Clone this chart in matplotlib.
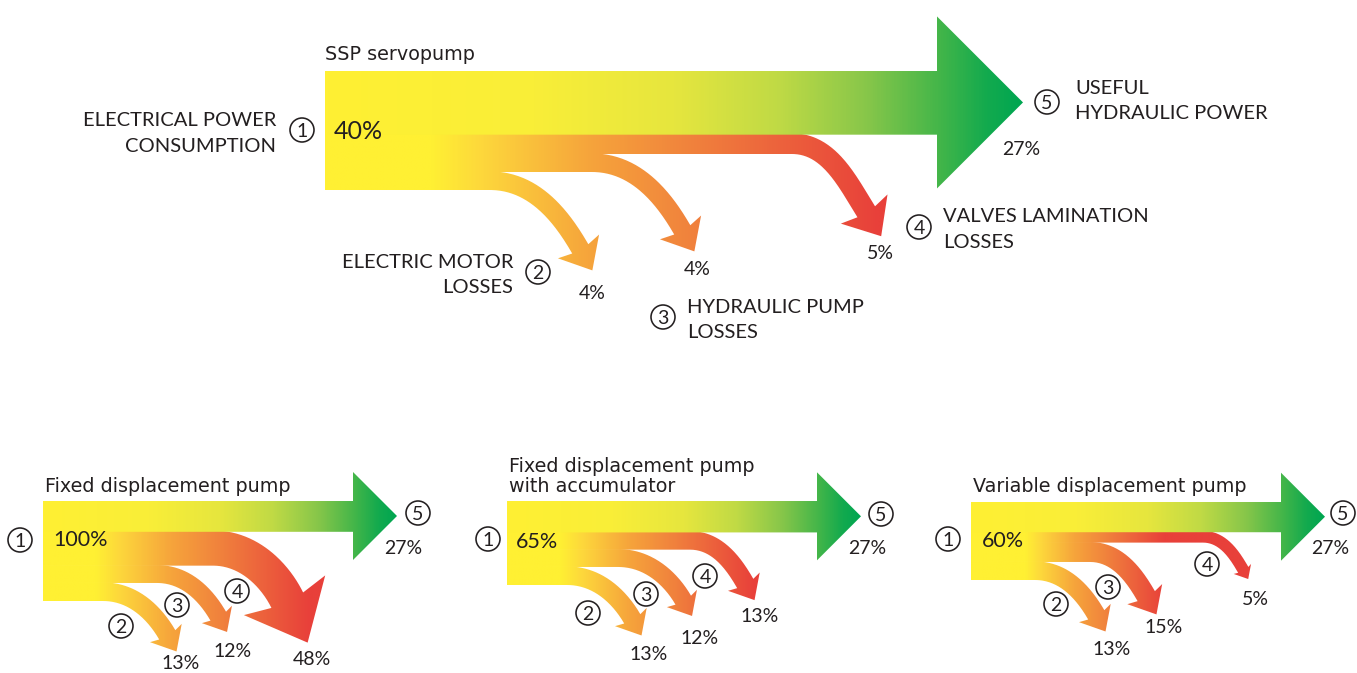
import numpy as np
import matplotlib
matplotlib.use("Agg")
import matplotlib.pyplot as plt
from matplotlib.path import Path
from matplotlib.patches import PathPatch, Circle
from matplotlib.colors import LinearSegmentedColormap

# ---- data ----
titles = ["SSP servopump", "Fixed displacement pump",
          "Fixed displacement pump\nwith accumulator", "Variable displacement pump"]
consumption = [40, 100, 65, 60]     # 1
motor_losses = [4, 13, 13, 13]      # 2
pump_losses = [4, 12, 12, 15]       # 3
valve_losses = [5, 48, 13, 5]       # 4
useful_power = [27, 27, 27, 27]     # 5
node_names = ["ELECTRICAL POWER\nCONSUMPTION", "ELECTRIC MOTOR\nLOSSES",
              "HYDRAULIC PUMP\nLOSSES", "VALVES LAMINATION\nLOSSES",
              "USEFUL\nHYDRAULIC POWER"]

TXT = "#231F20"
FONT = "Lato"
TFONT = "DejaVu Sans"

# ---- layout (pixels, y down) ----
layout = [
    dict(x0=325, y0=71, body_h=119, body_len=612, head_len=86, wscale=9.0, head_k=1.3,
         turn=[165, 267, 467], reach=[(90, 68), (90, 67), (74, 68)], angle=[60, 60, 58],
         grad=(105, 555), title=(325, [53]), title_fs=13.8, big_fs=18,
         circ=[(302, 130), (538, 272), (663, 317), (919, 227), (1047, 102)],
         pct=[(334, 130), (592, 292), (697, 268), (880, 252), (1021, 148)],
         names=[("right", 276, [119, 144.5]), ("right", 513, [261, 286]),
                ("left", 687, [306, 331]), ("left", 943, [215, 241]),
                ("left", 1075, [87, 112])]),
    dict(x0=43, y0=501, body_h=100, body_len=310, head_len=44, wscale=5.0, head_k=1.0,
         turn=[60, 114, 170], reach=[(64, 43), (61, 42), (74, 52)], angle=[60, 60, 64],
         grad=(52, 267), title=(45, [485]), title_fs=13.8, big_fs=15.5,
         circ=[(20, 540), (121, 626), (177, 605), (237, 591), (418, 513)],
         pct=[(53, 538), (181, 662), (233, 650), (312, 658), (403, 547)], names=None),
    dict(x0=507, y0=501, body_h=84, body_len=310, head_len=44, wscale=5.0, head_k=1.0,
         turn=[60, 111, 183], reach=[(65, 43), (65, 42), (55, 43)], angle=[60, 60, 60],
         grad=(53, 248), title=(509, [465, 485]), title_fs=13.8, big_fs=15.5,
         circ=[(488, 539), (588, 613), (646, 594), (705, 576), (881, 514)],
         pct=[(516, 540), (649, 653), (700, 637), (760, 615), (867, 547)], names=None),
    dict(x0=971, y0=502, body_h=78, body_len=310, head_len=44, wscale=5.0, head_k=1.0,
         turn=[64, 119, 232], reach=[(61, 44), (56, 44), (40, 33)], angle=[60, 60, 60],
         grad=(54, 194), title=(973, [485]), title_fs=13.8, big_fs=15.5,
         circ=[(948, 539), (1056, 604), (1108, 587), (1207, 564), (1343, 513)],
         pct=[(982, 539), (1112, 648), (1164, 626), (1255, 598), (1330, 547)], names=None),
]

green_cmap = LinearSegmentedColormap.from_list("g", [
    (0.0, "#FFF033"), (0.3, "#F9EE38"), (0.5, "#E6E63E"), (0.65, "#C0DA45"),
    (0.78, "#86C64A"), (0.88, "#45B649"), (0.95, "#13AA4E"), (1.0, "#00A651")])
red_cmap = LinearSegmentedColormap.from_list("r", [
    (0.0, "#FFF033"), (0.12, "#FDD63C"), (0.35, "#F6A53B"), (0.6, "#F07F3D"),
    (0.8, "#EC5F3C"), (1.0, "#E8403A")])

fig = plt.figure(figsize=(13.57, 6.73), dpi=100)
ax = fig.add_axes([0, 0, 1, 1])
ax.set_xlim(0, 1357)
ax.set_ylim(673, 0)
ax.axis("off")


def cap(fs, k=0.72):
    return fs * 100 / 72 * k


def gradient_fill(verts, cmap, gx0, gx1, xmin, xmax, ymin, ymax):
    patch = PathPatch(Path(verts), facecolor="none", edgecolor="none")
    ax.add_patch(patch)
    xs = np.linspace(xmin, xmax, 600)
    vals = np.clip((xs - gx0) / (gx1 - gx0), 0, 1)
    img = ax.imshow(np.tile(vals, (4, 1)), cmap=cmap, vmin=0, vmax=1, aspect="auto",
                    extent=(xmin, xmax, ymax, ymin), interpolation="bilinear", zorder=1)
    img.set_clip_path(patch)


def branch_verts(x0, xt, yc, w, dx, dy, ang, hw, hl):
    th = np.radians(ang)
    d = np.array([np.cos(th), np.sin(th)])
    p0 = np.array([xt, yc])
    p3 = p0 + np.array([dx, dy])
    p1 = p0 + np.array([0.5 * dx, 0])
    p2 = p3 - d * 0.45 * dy / np.sin(th)
    t = np.linspace(0, 1, 80)[:, None]
    pts = (1 - t) ** 3 * p0 + 3 * (1 - t) ** 2 * t * p1 + 3 * (1 - t) * t ** 2 * p2 + t ** 3 * p3
    der = 3 * (1 - t) ** 2 * (p1 - p0) + 6 * (1 - t) * t * (p2 - p1) + 3 * t ** 2 * (p3 - p2)
    der[0] = [1, 0]
    der = der / np.linalg.norm(der, axis=1)[:, None]
    nrm = np.column_stack([-der[:, 1], der[:, 0]])
    pts = np.vstack([[x0, yc], pts])
    nrm = np.vstack([[0, 1], nrm])
    upper = pts - nrm * (w / 2 + 0.6)
    lower = pts + nrm * w / 2
    n_end = nrm[-1]
    back = p3 - d * 0.12 * hl
    head = [back - n_end * hw / 2, p3 + d * hl, back + n_end * hw / 2]
    return np.vstack([upper, head, lower[::-1], upper[:1]])


def node(cx, cy, k):
    ax.add_patch(Circle((cx, cy), 12, fill=False, lw=1.15, ec=TXT, zorder=3))
    ax.text(cx, cy + cap(14) / 2, str(k), ha="center", va="baseline", fontsize=14,
            color=TXT, family=FONT, zorder=4)


for p, L in enumerate(layout):
    x0, y0, bh = L["x0"], L["y0"], L["body_h"]
    losses = [motor_losses[p], pump_losses[p], valve_losses[p]]
    widths = [L["wscale"] * np.sqrt(v) for v in losses]
    shaft = bh - sum(widths)
    xh = x0 + L["body_len"]
    hl_main = L["head_len"]
    ys = y0 + shaft / 2
    ymin, ymax = ys - hl_main - 2, y0 + bh + 140

    # branches: valve (4) under the shaft, then pump (3), then motor (2)
    ytop = y0 + shaft
    for i in [2, 1, 0]:
        w = widths[i]
        yc = ytop + w / 2
        hw = w * (1.4 + 0.035 * w) * L["head_k"]
        dx, dy = L["reach"][i]
        v = branch_verts(x0, x0 + L["turn"][i], yc, w, dx, dy, L["angle"][i], hw, 0.52 * hw)
        gradient_fill(v, red_cmap, x0 + L["grad"][0], x0 + L["grad"][1],
                      x0 - 2, xh + 40, ymin, ymax)
        ytop += w

    # main arrow
    mv = [(x0, y0), (xh, y0), (xh, ys - hl_main), (xh + hl_main, ys), (xh, ys + hl_main),
          (xh, y0 + shaft + 0.8), (x0, y0 + shaft + 0.8), (x0, y0)]
    gradient_fill(mv, green_cmap, x0, xh + hl_main, x0 - 2, xh + hl_main + 2, ymin, ymax)

    # title
    tx, tys = L["title"]
    for line, ty in zip(titles[p].split("\n"), tys):
        ax.text(tx, ty + cap(L["title_fs"], 0.73) / 2, line, ha="left", va="baseline",
                fontsize=L["title_fs"], color=TXT, family=TFONT, fontweight="medium")

    values = [consumption[p], motor_losses[p], pump_losses[p], valve_losses[p], useful_power[p]]
    for k in range(5):
        node(*L["circ"][k], k + 1)
        px, py = L["pct"][k]
        if k == 0:
            ax.text(px, py + cap(L["big_fs"]) / 2, f"{values[k]}%", ha="left", va="baseline",
                    fontsize=L["big_fs"], color=TXT, family=FONT, zorder=4)
        else:
            ax.text(px, py + cap(14) / 2, f"{values[k]}%", ha="center", va="baseline",
                    fontsize=14, color=TXT, family=FONT, zorder=4)
        if L["names"]:
            side, nx, nys = L["names"][k]
            for line, ny in zip(node_names[k].split("\n"), nys):
                ax.text(nx, ny + cap(14.5) / 2, line, ha=side, va="baseline", fontsize=14.5,
                        color=TXT, family=FONT)

ax.set_xlim(0, 1357)
ax.set_ylim(673, 0)
fig.savefig("out.png", dpi=100)
